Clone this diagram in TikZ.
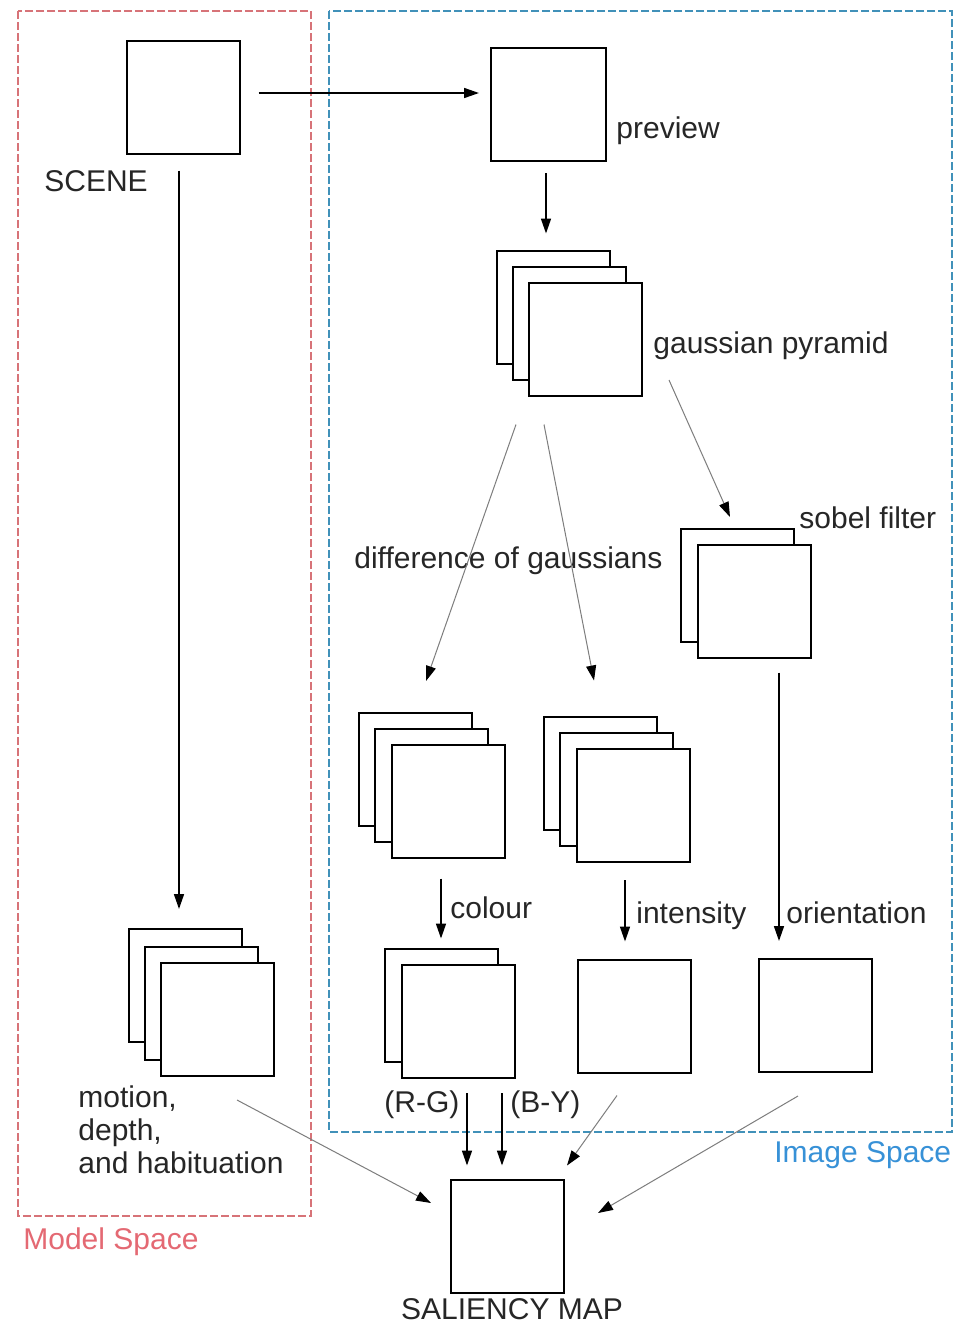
\documentclass[tikz,border=0pt]{standalone}
\usepackage{fontspec}
\setmainfont{Liberation Sans}
\usetikzlibrary{arrows.meta,calc}
\definecolor{modelred}{RGB}{228,105,115}
\definecolor{modelline}{RGB}{215,115,120}
\definecolor{imgblue}{RGB}{55,145,215}
\definecolor{imgline}{RGB}{65,145,185}
\definecolor{thinline}{RGB}{125,125,125}
\begin{document}
\begin{tikzpicture}[x=0.5pt,y=-0.5pt,
  box/.style={draw=black,fill=white,line width=1pt,minimum width=56.5pt,minimum height=56.5pt,inner sep=0pt},
  lbl/.style={anchor=base west,inner sep=0pt,font=\fontsize{15pt}{16.5pt}\selectfont,text=black!85},
  arr/.style={draw=black,line width=0.8pt,-{Triangle[length=7.5pt,width=5pt]}},
  garr/.style={draw=thinline,line width=0.5pt,-{Triangle[length=7.5pt,width=5pt,color=black]}},
  region/.style={line width=0.6pt,dash pattern=on 4pt off 1.5pt}
]
\fill[white] (0,0) rectangle (955,1329);
\useasboundingbox (0,0) rectangle (955,1329);

% regions
\draw[region,draw=modelline] (18,11) rectangle (311,1216);
\draw[region,draw=imgline] (329,11) rectangle (952,1132);

% boxes
\node[box] (scene) at (183,97) {};
\node[box,minimum width=57.5pt] (preview) at (548.5,104.5) {};
\node[box] (gp1) at (553,307) {};
\node[box] (gp2) at (569.5,323) {};
\node[box] (gp3) at (585.5,339) {};
\node[box] (sob1) at (737,585.5) {};
\node[box] (sob2) at (754.5,601) {};
\node[box] (col1) at (415.5,769.5) {};
\node[box] (col2) at (431.5,785.5) {};
\node[box] (col3) at (448,801) {};
\node[box] (int1) at (600.5,773) {};
\node[box] (int2) at (616.5,789.5) {};
\node[box] (int3) at (633.5,805.5) {};
\node[box] (rg1) at (441.5,1005) {};
\node[box] (rg2) at (458.5,1021.5) {};
\node[box] (intb) at (634.5,1016) {};
\node[box] (ori) at (815.5,1015.5) {};
\node[box] (mot1) at (185.5,985.5) {};
\node[box] (mot2) at (201,1003) {};
\node[box] (mot3) at (217,1019.5) {};
\node[box] (sal) at (507.5,1236) {};

% labels
\node[lbl] (tscene) at (44,191) {SCENE};
\node[lbl] (tpreview) at (616,138) {preview};
\node[lbl] (tgp) at (653,353) {gaussian pyramid};
\node[lbl] (tsobel) at (799,528) {sobel filter};
\node[lbl] (tdog) at (354,568) {difference of gaussians};
\node[lbl] (tcol) at (450,918) {colour};
\node[lbl] (tint) at (636,923) {intensity};
\node[lbl] (tori) at (786,923) {orientation};
\node[lbl] (trg) at (384,1112) {(R-G)};
\node[lbl] (tby) at (510,1112) {(B-Y)};
\node[lbl,anchor=west,align=left] (tmot) at (78,1130) {motion,\\depth,\\and habituation};
\node[lbl,anchor=base] (tsal) at (512,1319) {SALIENCY MAP};
\node[lbl,text=modelred] (tmodel) at (23,1249) {Model Space};
\node[lbl,text=imgblue] (timage) at (774,1162) {Image Space};

% connectors
\draw[arr] ($(scene.east)+(18,-4)$) -- ($(preview.west)+(-11,-11.5)$);
\draw[arr] ($(scene.south)+(-4,16)$) -- ($(mot1.north)+(-6.5,-19)$);
\draw[arr] ($(preview.south)+(-2.5,11)$) -- ($(gp1.north)+(-7,-16)$);
\draw[garr] ($(gp3.south)+(-69.5,28)$) -- ($(col1.north)+(10.5,-31)$);
\draw[garr] ($(gp3.south)+(-41.5,28)$) -- ($(int1.north)+(-6.5,-35)$);
\draw[garr] ($(gp3.east)+(26,41)$) -- ($(sob1.north)+(-7,-11)$);
\draw[arr] ($(sob2.south)+(24.5,14)$) -- ($(ori.north)+(-36.5,-17)$);
\draw[arr] ($(col3.south)+(-7,20)$) -- ($(rg1.north)+(-0.5,-9)$);
\draw[arr] ($(int3.south)+(-8.5,17)$) -- ($(intb.north)+(-9.5,-17)$);
\draw[arr] ($(rg2.south)+(8.5,14)$) -- ($(sal.north)+(-40.5,-13)$);
\draw[arr] ($(rg2.south)+(43.5,14)$) -- ($(sal.north)+(-5.5,-13)$);
\draw[garr] ($(intb.south)+(-17.5,22)$) -- ($(sal.north)+(59.5,-13)$);
\draw[garr] ($(ori.south)+(-17.5,23)$) -- ($(sal.east)+(33,-23)$);
\draw[garr] ($(mot3.south)+(20,23)$) -- ($(sal.west)+(-19,-33)$);
\end{tikzpicture}
\end{document}
